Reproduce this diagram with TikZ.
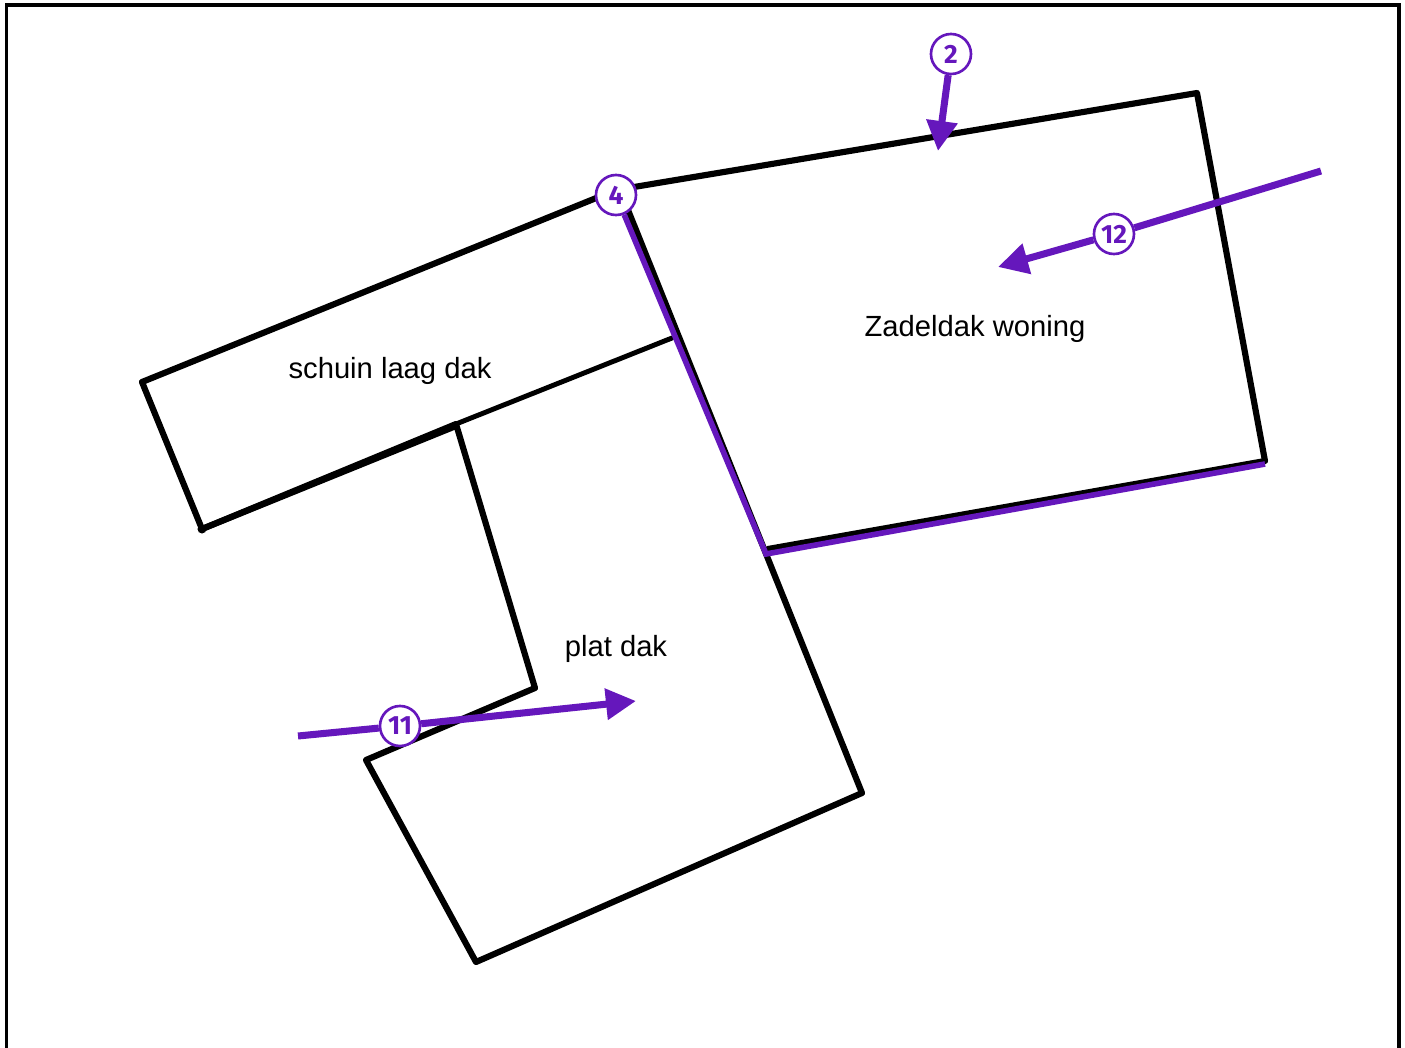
\documentclass[tikz,border=0pt]{standalone}
\usepackage{fontspec}
\setmainfont{Liberation Sans}
\newfontfamily\badgefont{Fira Sans}
\usetikzlibrary{arrows.meta}
\definecolor{dakpurple}{HTML}{6517BC}

\tikzset{
  wall/.style={draw=black, line width=1.75pt, line join=round, line cap=round},
  edge/.style={draw=dakpurple, line width=2pt},
  windarrow/.style={edge, -{Triangle[length=0.3cm,width=0.3cm]}},
  badge/.style={circle, draw=dakpurple, fill=white, line width=0.75pt, minimum size=0.4cm,
    inner sep=0pt, text=dakpurple, font=\badgefont\bfseries\fontsize{7.5}{7.5}\selectfont},
  roof/.style={font=\fontsize{8.3}{10}\selectfont, inner sep=0pt}
}

\begin{document}
\begin{tikzpicture}[x=0.01cm,y=-0.01cm]
  \useasboundingbox (0,0) rectangle (1405,1048);

  % Frame, open at the bottom
  \draw[line width=0.9pt] (6.5,1048) -- (6.5,5) -- (1399,5) -- (1399,1048);

  % Corner points
  \coordinate (A) at (616,190);
  \coordinate (A2) at (624,200);
  \coordinate (B) at (1197,93);
  \coordinate (C) at (1265,461);
  \coordinate (D) at (768,549);
  \coordinate (E) at (862,793);
  \coordinate (F) at (476,962);
  \coordinate (G) at (366,760);
  \coordinate (H) at (535,688);
  \coordinate (I) at (456,424);
  \coordinate (J) at (202,529);
  \coordinate (K) at (142,382);
  \coordinate (L) at (672,338);

  % Roof outlines
  \draw[wall] (A) -- (B) -- (C) -- (D);
  \draw[wall] (A2) -- (E) -- (F) -- (G) -- (H) -- (I) -- (J) -- (K) -- (A);
  \draw[wall, line width=1.4pt] (I) -- (L);
  \draw[wall] ([yshift=-0.02cm]I) -- (J); % doubled edge
  \fill (J) circle (0.045cm);

  % Labels
  \node[roof] (schuin) at (390,371) {schuin laag dak};
  \node[roof] (plat) at (616,649) {plat dak};
  \node[roof] (zadel) at (975,329) {Zadeldak woning};

  % Numbered badges
  \node[badge] (n2) at (951,54) {2};
  \node[badge] (n4) at (616,195) {4};
  \node[badge] (n11) at (400,726) {11};
  \node[badge] (n12) at (1114,234) {12};

  % Arrow ends
  \coordinate (tip2) at (938,151);
  \coordinate (tail11) at (298,736);
  \coordinate (tip11) at (636,701);
  \coordinate (tail12) at (1321,171);
  \coordinate (tip12) at (998,267);
  \coordinate (Dp) at (766,554);
  \coordinate (Cp) at (1265,464);

  % Purple edge and arrows
  \draw[edge, line width=1.6pt, line join=miter] (n4) -- (Dp) -- (Cp);
  \draw[windarrow] (n2) -- (tip2);
  \draw[edge] (tail11) -- (n11);
  \draw[windarrow] (n11) -- (tip11);
  \draw[edge] (tail12) -- (n12);
  \draw[windarrow] (n12) -- (tip12);
\end{tikzpicture}
\end{document}
